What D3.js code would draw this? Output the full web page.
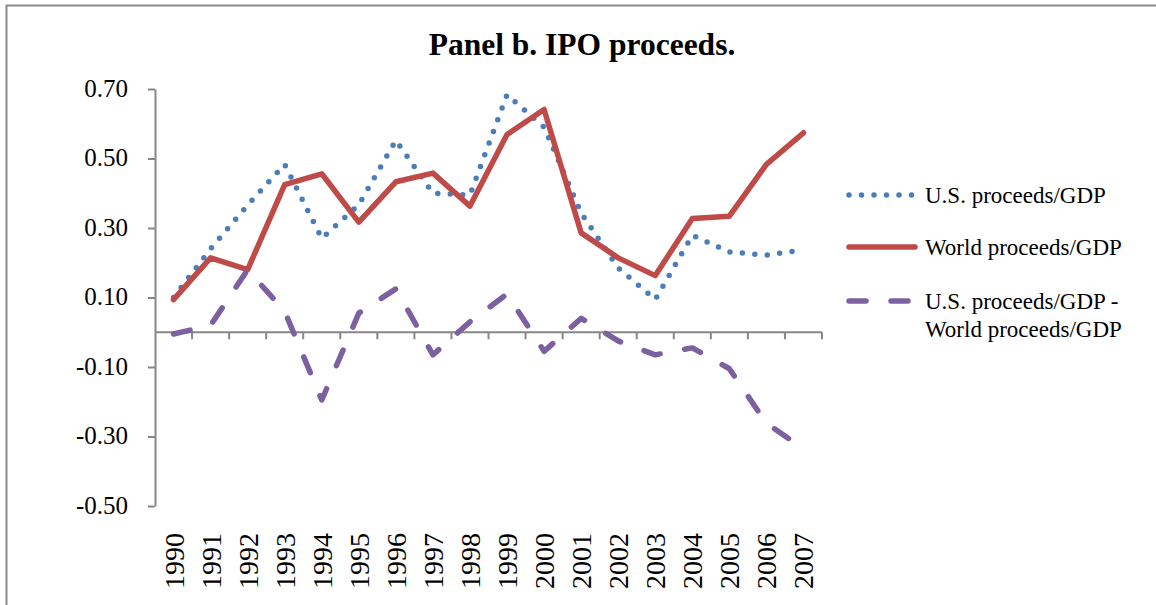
<!DOCTYPE html>
<html lang="en">
<head>
<meta charset="utf-8">
<title>Panel b. IPO proceeds.</title>
<script src="https://d3js.org/d3.v7.min.js"></script>
<style>
  body { margin: 0; background: #fff; }
  svg { display: block; font-family: "Liberation Serif", "Times New Roman", serif; }
</style>
</head>
<body>
<script>
// data
const years = ["1990","1991","1992","1993","1994","1995","1996","1997","1998","1999",
               "2000","2001","2002","2003","2004","2005","2006","2007"];
const usProceeds    = [0.10, 0.24, 0.366, 0.483, 0.270, 0.367, 0.552, 0.400, 0.395, 0.684,
                       0.590, 0.343, 0.185, 0.094, 0.279, 0.231, 0.222, 0.237];
const worldProceeds = [0.094, 0.214, 0.180, 0.425, 0.456, 0.317, 0.433, 0.458, 0.363, 0.569,
                       0.641, 0.286, 0.214, 0.163, 0.327, 0.334, 0.483, 0.574];
const diffProceeds  = [-0.005, 0.02, 0.18, 0.06, -0.195, 0.055, 0.125, -0.065, 0.03, 0.11,
                       -0.055, 0.04, -0.025, -0.065, -0.045, -0.105, -0.262, -0.335];
const yTicks = [0.70, 0.50, 0.30, 0.10, -0.10, -0.30, -0.50];
const seriesNames = ["U.S. proceeds/GDP", "World proceeds/GDP", "U.S. proceeds/GDP -|World proceeds/GDP"];

const width = 1156, height = 605;
const axisColor = "#878787";

const svg = d3.select("body").append("svg")
    .attr("width", width)
    .attr("height", height);

// outer frame (runs off the right and bottom edges)
svg.append("rect")
    .attr("x", 6.5).attr("y", 5.5)
    .attr("width", 1200).attr("height", 700)
    .attr("fill", "none")
    .attr("stroke", "#8a8a8a")
    .attr("stroke-width", 2);

svg.append("text")
    .attr("x", 582).attr("y", 55)
    .attr("text-anchor", "middle")
    .attr("font-size", 31.5)
    .attr("font-weight", "bold")
    .text("Panel b. IPO proceeds.");

const x = d3.scaleBand().domain(years).range([155, 822]).padding(0);
const y = d3.scaleLinear().domain([-0.5, 0.7]).range([506, 89]);

// y axis
const leftAxis = d3.axisLeft(y)
    .tickValues(yTicks)
    .tickSize(7)
    .tickSizeOuter(0)
    .tickPadding(20)
    .tickFormat(d => d.toFixed(2));

const gy = svg.append("g")
    .attr("transform", "translate(155,0)")
    .call(leftAxis);
gy.select(".domain").attr("stroke", axisColor).attr("stroke-width", 2);
gy.selectAll(".tick line").attr("stroke", axisColor).attr("stroke-width", 2);
gy.selectAll(".tick text")
    .attr("font-size", 25)
    .attr("font-family", "Liberation Serif, serif")
    .attr("fill", "#000")
    .attr("dy", "0.28em");

// x axis along zero, ticks between categories
const y0 = y(0);
svg.append("line")
    .attr("x1", 155).attr("x2", 822)
    .attr("y1", y0).attr("y2", y0)
    .attr("stroke", axisColor).attr("stroke-width", 2);
svg.selectAll(".xtick")
    .data(d3.range(1, years.length + 1))
    .enter().append("line")
    .attr("class", "xtick")
    .attr("x1", i => 155 + i * x.step()).attr("x2", i => 155 + i * x.step())
    .attr("y1", y0).attr("y2", y0 + 7)
    .attr("stroke", axisColor).attr("stroke-width", 2);

// year labels at the bottom
svg.selectAll(".year")
    .data(years)
    .enter().append("text")
    .attr("class", "year")
    .attr("transform", d => "translate(" + (x(d) + x.bandwidth() / 2 + 10) + ",533) rotate(-90)")
    .attr("text-anchor", "end")
    .attr("font-size", 28)
    .text(d => d);

const line = d3.line()
    .x((d, i) => x(years[i]) + x.bandwidth() / 2)
    .y(d => y(d));

const styles = [
    { data: usProceeds,    color: "#4a7ebb", width: 5.5, dash: "0,12.5" },
    { data: worldProceeds, color: "#be4b48", width: 5.5, dash: null },
    { data: diffProceeds,  color: "#7d60a0", width: 5.5, dash: "17,25" }
];

styles.forEach(s => {
    svg.append("path")
        .datum(s.data)
        .attr("d", line)
        .attr("fill", "none")
        .attr("stroke", s.color)
        .attr("stroke-width", s.width)
        .attr("stroke-linecap", "round")
        .attr("stroke-linejoin", "round")
        .attr("stroke-dasharray", s.dash);
});

// legend
const legendY = [195, 247, 301];
styles.forEach((s, i) => {
    svg.append("line")
        .attr("x1", 849).attr("x2", 915)
        .attr("y1", legendY[i]).attr("y2", legendY[i])
        .attr("stroke", s.color)
        .attr("stroke-width", s.width)
        .attr("stroke-linecap", "round")
        .attr("stroke-dasharray", s.dash);
    const t = svg.append("text")
        .attr("x", 925).attr("y", legendY[i] + 8)
        .attr("font-size", 23);
    seriesNames[i].split("|").forEach((part, j) => {
        t.append("tspan")
            .attr("x", 925)
            .attr("dy", j === 0 ? 0 : 28)
            .text(part);
    });
});
</script>
</body>
</html>
